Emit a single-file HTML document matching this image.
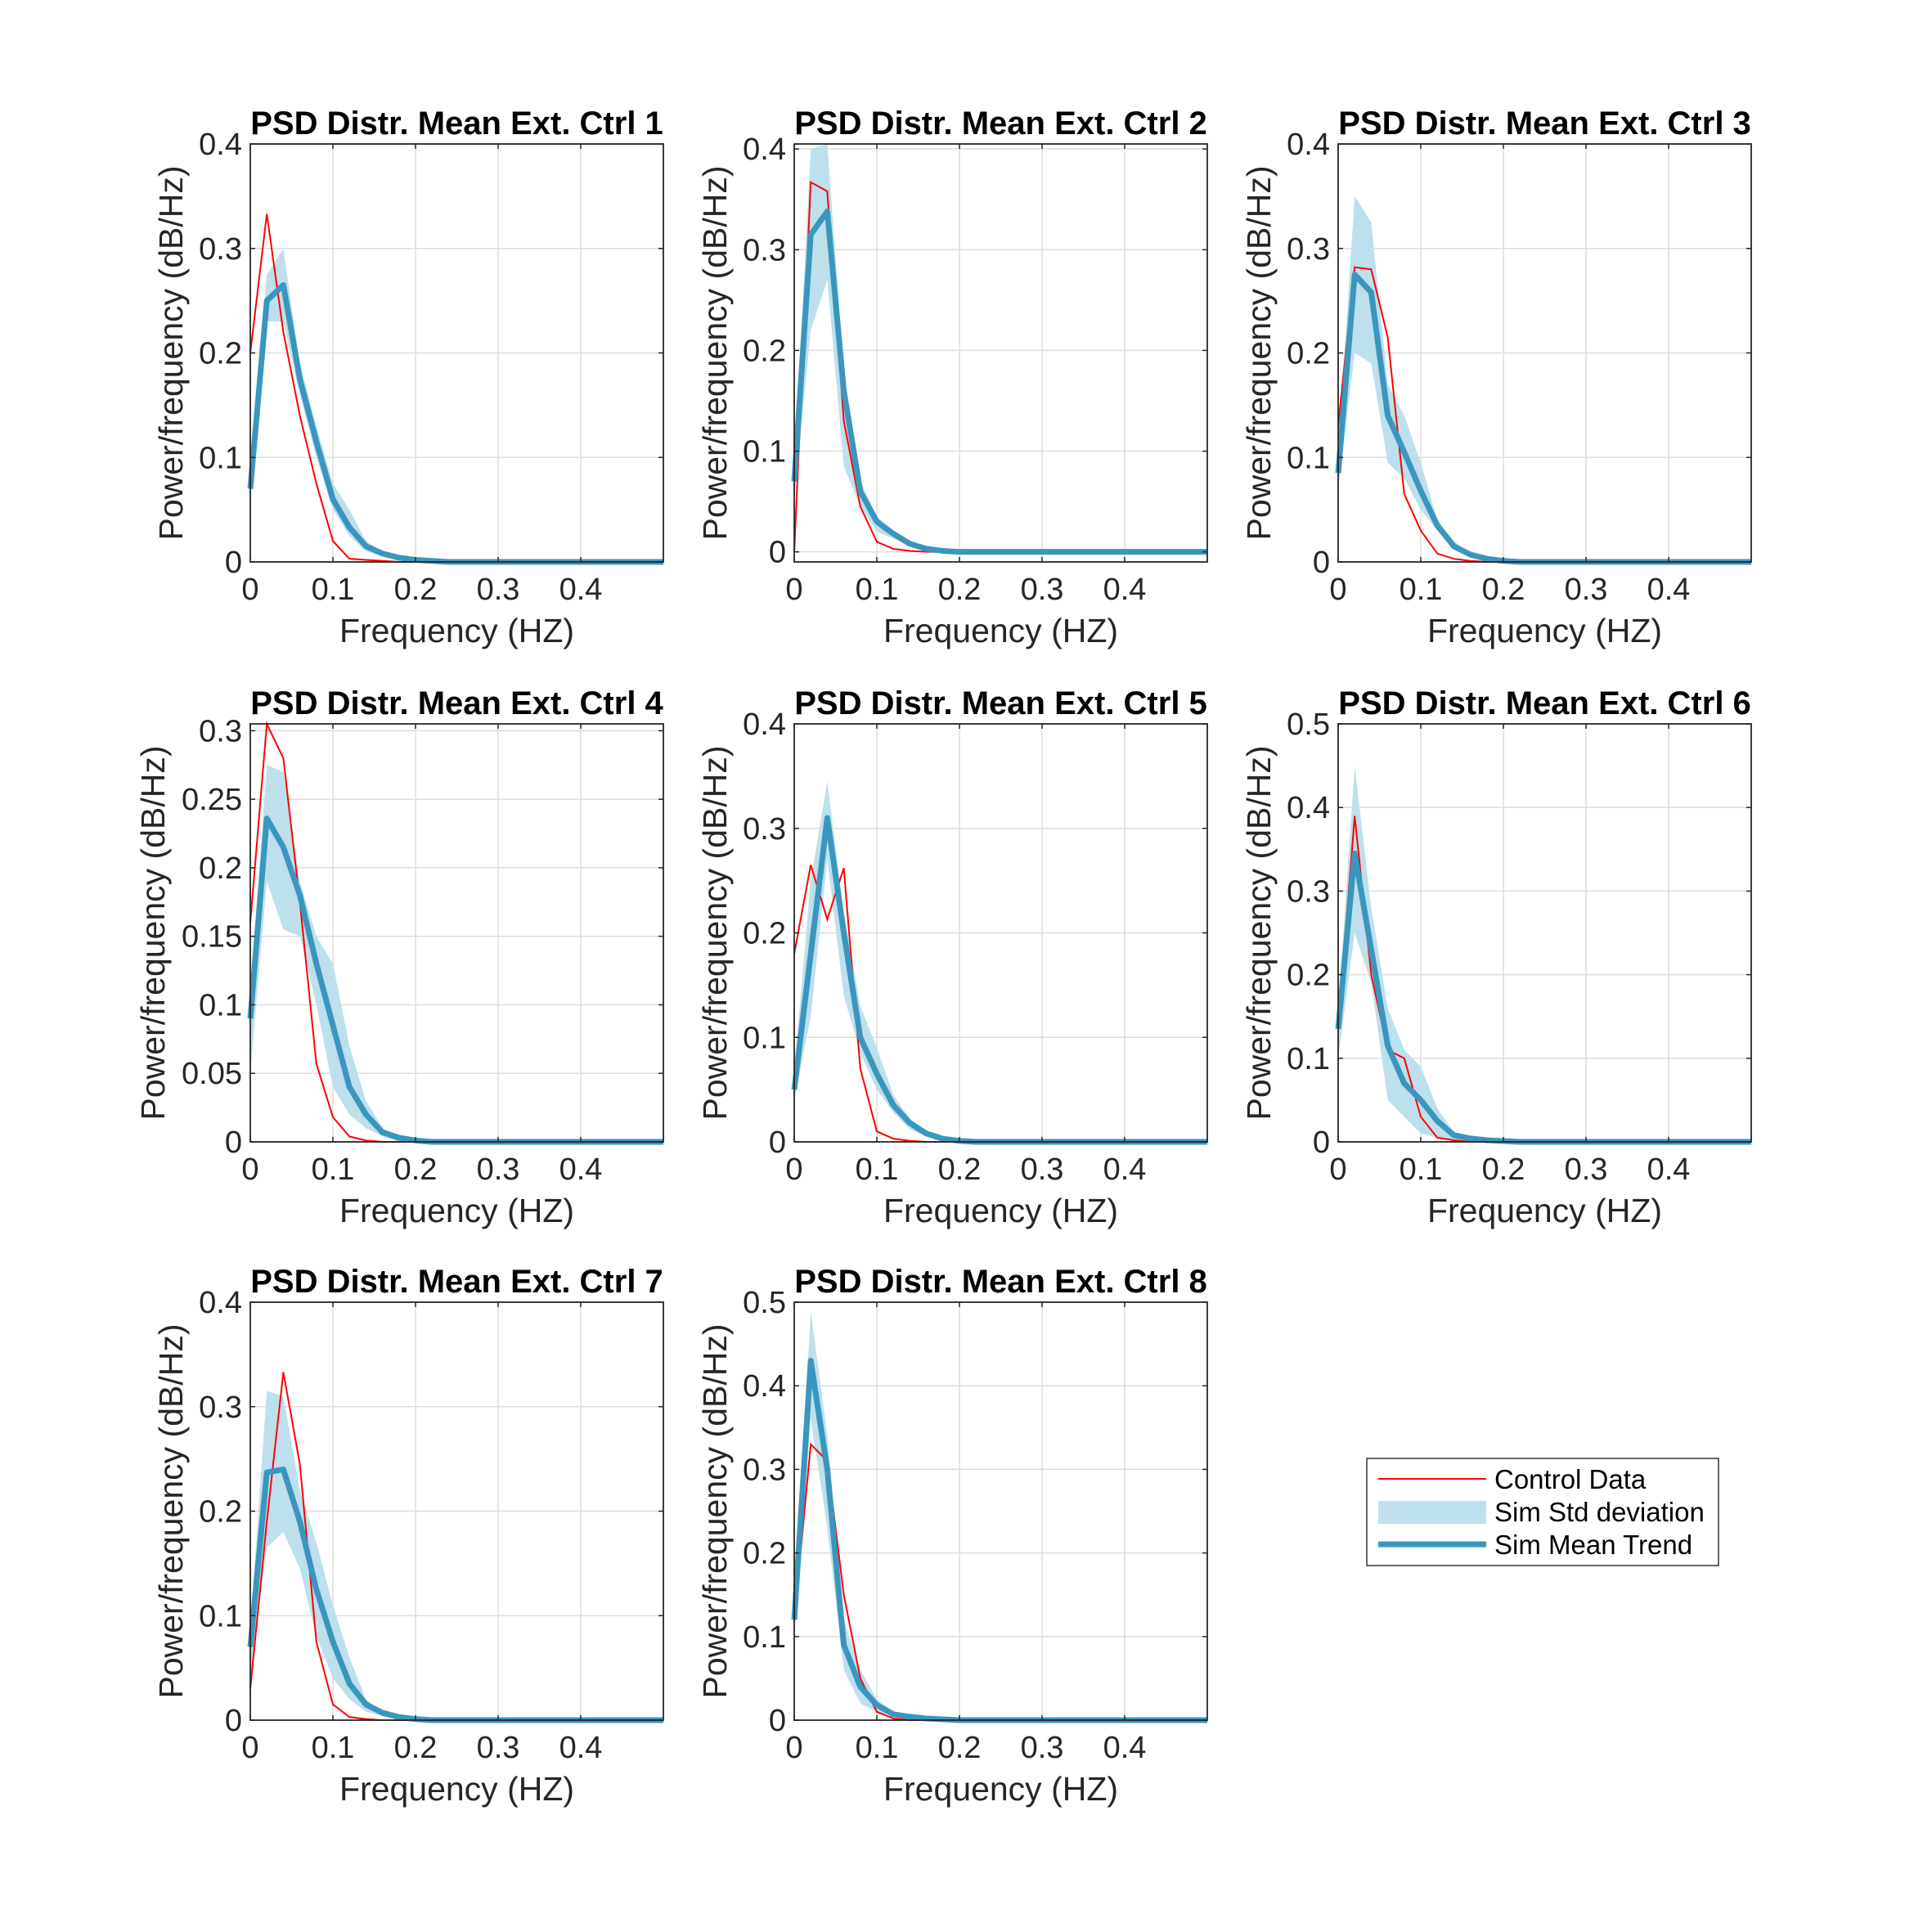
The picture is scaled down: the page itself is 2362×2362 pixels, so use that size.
<!DOCTYPE html>
<html><head><meta charset="utf-8"><style>
html,body{margin:0;padding:0;background:#fff;}
svg{display:block;}
text{font-family:"Liberation Sans",Arial,sans-serif;}
</style></head><body>
<svg id="fig" width="2362" height="2362" viewBox="0 0 2362 2362" xmlns="http://www.w3.org/2000/svg"></svg>
<script>
const freqStep = 0.02;
const titles = ["PSD Distr. Mean Ext. Ctrl 1","PSD Distr. Mean Ext. Ctrl 2","PSD Distr. Mean Ext. Ctrl 3","PSD Distr. Mean Ext. Ctrl 4","PSD Distr. Mean Ext. Ctrl 5","PSD Distr. Mean Ext. Ctrl 6","PSD Distr. Mean Ext. Ctrl 7","PSD Distr. Mean Ext. Ctrl 8"];
const xTicks = [0,0.1,0.2,0.3,0.4];
const xTickLabels = ["0","0.1","0.2","0.3","0.4"];
const yLims = [[0,0.4],[-0.01,0.405],[0,0.4],[0,0.305],[0,0.4],[0,0.5],[0,0.4],[0,0.5]];
const yTicks = [[0,0.1,0.2,0.3,0.4],[0,0.1,0.2,0.3,0.4],[0,0.1,0.2,0.3,0.4],[0,0.05,0.1,0.15,0.2,0.25,0.3],[0,0.1,0.2,0.3,0.4],[0,0.1,0.2,0.3,0.4,0.5],[0,0.1,0.2,0.3,0.4],[0,0.1,0.2,0.3,0.4,0.5]];
const yTickLabels = [["0","0.1","0.2","0.3","0.4"],["0","0.1","0.2","0.3","0.4"],["0","0.1","0.2","0.3","0.4"],["0","0.05","0.1","0.15","0.2","0.25","0.3"],["0","0.1","0.2","0.3","0.4"],["0","0.1","0.2","0.3","0.4","0.5"],["0","0.1","0.2","0.3","0.4"],["0","0.1","0.2","0.3","0.4","0.5"]];
const meanTrend = [
 [0.07,0.25,0.265,0.175,0.115,0.06,0.033,0.015,0.008,0.004,0.002,0.001],
 [0.07,0.315,0.338,0.16,0.06,0.03,0.018,0.008,0.003,0.001],
 [0.085,0.275,0.258,0.14,0.105,0.068,0.035,0.015,0.007,0.003,0.001],
 [0.09,0.236,0.215,0.18,0.13,0.085,0.04,0.02,0.007,0.003,0.001],
 [0.05,0.18,0.31,0.2,0.1,0.065,0.035,0.018,0.008,0.003,0.001],
 [0.135,0.345,0.23,0.115,0.07,0.05,0.025,0.008,0.004,0.002,0.001],
 [0.07,0.237,0.24,0.19,0.125,0.075,0.035,0.015,0.007,0.003,0.001],
 [0.12,0.43,0.3,0.09,0.04,0.018,0.007,0.004,0.002,0.001]
];
const stdUpper = [
 [0.09,0.275,0.30,0.19,0.13,0.075,0.05,0.02,0.01,0.005,0.002],
 [0.09,0.40,0.405,0.18,0.07,0.035,0.02,0.01,0.004],
 [0.11,0.35,0.325,0.17,0.14,0.095,0.04,0.02,0.008,0.003],
 [0.11,0.275,0.27,0.19,0.15,0.13,0.07,0.03,0.01,0.004],
 [0.07,0.25,0.345,0.22,0.13,0.09,0.045,0.022,0.01,0.004],
 [0.16,0.45,0.28,0.16,0.11,0.09,0.04,0.012,0.005],
 [0.09,0.315,0.31,0.22,0.17,0.11,0.06,0.02,0.008,0.003],
 [0.14,0.49,0.34,0.12,0.06,0.025,0.01,0.005]
];
const stdLower = [
 [0.06,0.23,0.23,0.16,0.10,0.05,0.025,0.01,0.006,0.003],
 [0.05,0.22,0.27,0.085,0.045,0.02,0.013,0.006,0.002],
 [0.07,0.20,0.19,0.095,0.08,0.05,0.03,0.012,0.005],
 [0.05,0.19,0.155,0.15,0.1,0.04,0.02,0.01,0.004],
 [0.04,0.12,0.27,0.14,0.085,0.05,0.028,0.012,0.005],
 [0.10,0.25,0.19,0.05,0.03,0.01,0.005,0.003],
 [0.04,0.165,0.18,0.145,0.08,0.04,0.02,0.008,0.004],
 [0.1,0.36,0.23,0.06,0.02,0.01,0.005,0.003]
];
const controlData = [
 [0.2,0.333,0.22,0.14,0.075,0.02,0.003,0.002,0.001],
 [0.0,0.367,0.358,0.13,0.045,0.01,0.003,0.001],
 [0.13,0.282,0.28,0.215,0.065,0.03,0.008,0.003,0.001],
 [0.16,0.305,0.28,0.175,0.057,0.018,0.004,0.001],
 [0.18,0.265,0.213,0.262,0.07,0.01,0.003,0.001],
 [0.14,0.39,0.2,0.11,0.1,0.03,0.005,0.002],
 [0.03,0.19,0.333,0.245,0.075,0.015,0.003,0.001],
 [0.12,0.33,0.31,0.15,0.05,0.01,0.002]
];
const NPTS = 26;

const svg = document.getElementById('fig');
const NS = 'http://www.w3.org/2000/svg';
function mk(tag, attrs, parent){const e=document.createElementNS(NS,tag);for(const k in attrs)e.setAttribute(k,attrs[k]);(parent||svg).appendChild(e);return e;}
function pad(a){const r=a.slice();while(r.length<NPTS)r.push(0);return r;}

const colX=[306,971,1636], rowY=[176,885,1592], W=505, H=511;
titles.forEach((t,i)=>{
  const L=colX[i%3], T=rowY[Math.floor(i/3)];
  const g=mk('g',{});
  
  
  const [y0,y1]=yLims[i];
  const sx=v=>L+v/0.5*W, sy=v=>T+H-(v-y0)/(y1-y0)*H;
  mk('rect',{x:L,y:T,width:W,height:H,fill:'#fff'},g);
  xTicks.forEach(v=>{if(v>0){const l=mk('line',{x1:sx(v),x2:sx(v),y1:T,y2:T+H,stroke:'#dedede','stroke-width':1.5},g);}});
  yTicks[i].forEach(v=>{const l=mk('line',{x1:L,x2:L+W,y1:sy(v),y2:sy(v),stroke:'#dedede','stroke-width':1.5},g);});
  const m=pad(meanTrend[i]),u=pad(stdUpper[i]),lo=pad(stdLower[i]),c=pad(controlData[i]);
  const xs=m.map((_,k)=>k*freqStep);
  let d='M'+xs.map((x,k)=>sx(x)+','+sy(u[k])).join(' L');
  for(let k=NPTS-1;k>=0;k--) d+=' L'+sx(xs[k])+','+sy(lo[k]);
  const band=mk('path',{d:d+'Z',fill:'#bde0ec',stroke:'none'},g);
  
  
  const red=mk('polyline',{points:xs.map((x,k)=>sx(x)+','+sy(c[k])).join(' '),fill:'none',stroke:'#ff0000','stroke-width':2},g);
  
  
  const ml=mk('polyline',{points:xs.map((x,k)=>sx(x)+','+sy(m[k])).join(' '),fill:'none',stroke:'#3a96be','stroke-width':7,'stroke-linejoin':'round'},g);
  
  
  const box=mk('rect',{x:L,y:T,width:W,height:H,fill:'none',stroke:'#262626','stroke-width':1.8},g);
  
  
  xTicks.forEach((v,k)=>{
    mk('line',{x1:sx(v),x2:sx(v),y1:T+H,y2:T+H-6,stroke:'#262626','stroke-width':1.5},g);
    mk('line',{x1:sx(v),x2:sx(v),y1:T,y2:T+6,stroke:'#262626','stroke-width':1.5},g);
    const tx=mk('text',{x:sx(v),y:T+H+46,'font-size':38,fill:'#262626','text-anchor':'middle'},g);
    tx.textContent=xTickLabels[k];
    
    
  });
  yTicks[i].forEach((v,k)=>{
    mk('line',{x1:L,x2:L+6,y1:sy(v),y2:sy(v),stroke:'#262626','stroke-width':1.5},g);
    mk('line',{x1:L+W,x2:L+W-6,y1:sy(v),y2:sy(v),stroke:'#262626','stroke-width':1.5},g);
    const ty=mk('text',{x:L-10,y:sy(v)+13,'font-size':38,fill:'#262626','text-anchor':'end'},g);
    ty.textContent=yTickLabels[i][k];
    
    
  });
  const ti=mk('text',{x:L+W/2,y:T-12,'font-size':40,'font-weight':'bold',fill:'#000','text-anchor':'middle'},g);
  ti.textContent=t;
  
  
  const xl=mk('text',{x:L+W/2,y:T+H+98,'font-size':41,fill:'#262626','text-anchor':'middle'},g);
  xl.textContent='Frequency (HZ)';
  
  
  const yx=(i===3)?L-105:L-83;
  const yl=mk('text',{x:yx,y:T+H/2,'font-size':41,fill:'#262626','text-anchor':'middle',transform:'rotate(-90 '+yx+' '+(T+H/2)+')'},g);
  yl.textContent='Power/frequency (dB/Hz)';
  
  
});

const lg=mk('g',{});


mk('rect',{x:1671,y:1783,width:430,height:131,fill:'#fff',stroke:'#555','stroke-width':1.8},lg);
mk('line',{x1:1685,x2:1817,y1:1808,y2:1808,stroke:'#ff0000','stroke-width':2},lg);
mk('rect',{x:1685,y:1835,width:132,height:28,fill:'#bde0ec'},lg);
mk('line',{x1:1685,x2:1817,y1:1888,y2:1888,stroke:'#3a96be','stroke-width':7},lg);
[['Control Data',1820],['Sim Std deviation',1860],['Sim Mean Trend',1900]].forEach(([s,y])=>{
  const t=mk('text',{x:1827,y:y,'font-size':33,fill:'#000'},lg);
  t.textContent=s;
  
  
});
</script>
</body></html>
